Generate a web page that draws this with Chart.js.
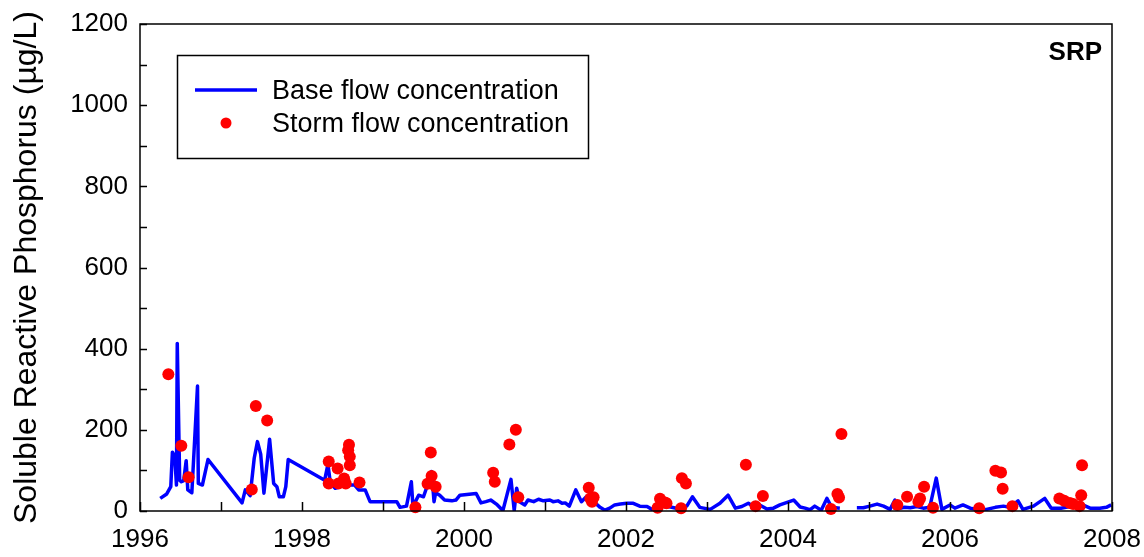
<!DOCTYPE html>
<html>
<head>
<meta charset="utf-8">
<title>SRP</title>
<script src="https://cdn.jsdelivr.net/npm/chart.js@4.4.1/dist/chart.umd.min.js"></script>
<style>
    html, body { margin: 0; padding: 0; background: #fff; }
    #wrap { width: 1144px; height: 557px; position: relative; }
</style>
</head>
<body>
<div id="wrap"><canvas id="srpChart"></canvas></div>
<script>
// Base flow samples (decimal year, µg/L); null = gap in the record
const baseYears = [
    1996.25, 1996.33, 1996.38, 1996.40, 1996.43, 1996.45, 1996.46, 1996.49, 1996.51, 1996.54,
    1996.57, 1996.59, 1996.64, 1996.71, 1996.72, 1996.77, 1996.84, 1997.26, 1997.30, 1997.36,
    1997.41, 1997.45, 1997.49, 1997.53, 1997.56, 1997.60, 1997.65, 1997.69, 1997.72, 1997.77,
    1997.80, 1997.83, 1998.28, 1998.32, 1998.35, 1998.41, 1998.53, 1998.65, 1998.70, 1998.78,
    1998.84, 1999.17, 1999.21, 1999.29, 1999.35, 1999.37, 1999.44, 1999.50, 1999.55, 1999.60,
    1999.63, 1999.65, 1999.70, 1999.76, 1999.85, 1999.90, 1999.95, 2000.15, 2000.21, 2000.27,
    2000.33, 2000.40, 2000.48, 2000.58, 2000.62, 2000.65, 2000.69, 2000.75, 2000.79, 2000.86,
    2000.92, 2000.98, 2001.06, 2001.10, 2001.16, 2001.21, 2001.25, 2001.30, 2001.38, 2001.45,
    2001.51, 2001.58, 2001.68, 2001.74, 2001.80, 2001.86, 2001.93, 2002.01, 2002.09, 2002.17,
    2002.26, 2002.32, 2002.42, 2002.52, 2002.62, 2002.75, 2002.82, 2002.91, 2003.04, 2003.16,
    2003.26, 2003.35, 2003.43, 2003.51, 2003.59, 2003.65, 2003.74, 2003.82, 2003.90, 2004.07,
    2004.15, 2004.21, 2004.27, 2004.33, 2004.41, 2004.48, 2004.54, 2004.64, 2004.75, 2004.85,
    2004.93, 2005.01, 2005.10, 2005.18, 2005.26, 2005.32, 2005.38, 2005.44, 2005.51, 2005.59,
    2005.67, 2005.75, 2005.83, 2005.90, 2006.00, 2006.06, 2006.16, 2006.25, 2006.33, 2006.45,
    2006.56, 2006.66, 2006.74, 2006.84, 2006.90, 2007.03, 2007.17, 2007.25, 2007.37, 2007.48,
    2007.56, 2007.64, 2007.73, 2007.85, 2007.93, 2007.99
];
const baseValues = [
    31, 42, 60, 145, 134, 64, 413, 76, 72, 75,
    124, 52, 45, 308, 68, 64, 127, 20, 52, 38,
    130, 171, 140, 44, 101, 177, 68, 60, 35, 35,
    60, 127, 76, 115, 69, 56, 64, 64, 52, 52,
    23, 23, 9, 12, 72, 11, 39, 35, 64, 97,
    23, 45, 39, 27, 25, 27, 39, 43, 20, 23,
    27, 17, 1, 78, 1, 56, 22, 15, 27, 23,
    29, 25, 27, 23, 25, 19, 20, 12, 52, 23,
    35, 27, 9, 2, 7, 15, 17, 19, 19, 12,
    11, 4, 12, 11, 7, 12, 35, 9, 4, 19,
    39, 7, 11, 19, 9, 15, 5, 7, 15, 27,
    10, 7, 3, 12, 2, 31, 9, 7, null, 8,
    8, 12, 17, 12, 4, 27, 7, 9, 8, 11,
    7, 9, 81, 4, 15, 7, 15, 7, 4, 4,
    9, 12, 9, 25, 4, 12, 31, 7, 7, 11,
    17, 15, 7, 7, 9, 15
];

// Storm flow samples
const stormYears = [
    1996.35, 1996.51, 1996.60, 1997.38, 1997.43, 1997.57, 1998.33, 1998.33, 1998.44, 1998.45,
    1998.52, 1998.54, 1998.57, 1998.58, 1998.59, 1998.59, 1998.71, 1999.40, 1999.55, 1999.59,
    1999.60, 1999.65, 2000.36, 2000.38, 2000.56, 2000.64, 2000.67, 2001.54, 2001.56, 2001.58,
    2001.60, 2002.39, 2002.42, 2002.48, 2002.50, 2002.68, 2002.69, 2002.74, 2003.48, 2003.60,
    2003.69, 2004.53, 2004.61, 2004.63, 2004.66, 2005.35, 2005.47, 2005.61, 2005.63, 2005.68,
    2005.79, 2006.36, 2006.56, 2006.63, 2006.65, 2006.77, 2007.35, 2007.41, 2007.48, 2007.52,
    2007.60, 2007.62, 2007.63
];
const stormValues = [
    337, 161, 83, 53, 259, 223, 122, 68, 105, 68,
    80, 68, 150, 163, 134, 113, 70, 9, 67, 144,
    86, 60, 94, 72, 164, 200, 34, 57, 31, 23,
    34, 8, 30, 21, 19, 7, 81, 68, 114, 12,
    37, 5, 42, 33, 190, 15, 35, 23, 31, 60,
    8, 7, 99, 95, 55, 12, 31, 25, 20, 17,
    12, 39, 113
];

const yearRange = [1996, 2008];
const yTickLabels = [0, 200, 400, 600, 800, 1000, 1200];
const panelLabel = 'SRP';

const FONT = 'Arial, "Liberation Sans", sans-serif';

// axis box, inward ticks, legend and panel label
const framePlugin = {
    id: 'frame',
    afterDatasetsDraw(chart) {
        const { ctx, chartArea: a, scales } = chart;
        ctx.save();
        ctx.strokeStyle = '#000';
        ctx.lineWidth = 1.5;
        ctx.strokeRect(a.left, a.top, a.right - a.left, a.bottom - a.top);

        ctx.beginPath();
        scales.x.ticks.forEach(t => {
            const px = Math.round(scales.x.getPixelForValue(t.value)) + 0.5;
            ctx.moveTo(px, a.bottom);
            ctx.lineTo(px, a.bottom - 9);
        });
        scales.y.ticks.forEach(t => {
            const py = Math.round(scales.y.getPixelForValue(t.value)) + 0.5;
            ctx.moveTo(a.left, py);
            ctx.lineTo(a.left + 7, py);
        });
        ctx.stroke();

        // legend
        ctx.lineWidth = 1.5;
        ctx.strokeRect(177.5, 55.5, 411, 103);
        ctx.strokeStyle = '#0000ff';
        ctx.lineWidth = 3.5;
        ctx.beginPath();
        ctx.moveTo(195, 90);
        ctx.lineTo(257, 90);
        ctx.stroke();
        ctx.fillStyle = '#ff0000';
        ctx.beginPath();
        ctx.arc(226, 123, 5.5, 0, Math.PI * 2);
        ctx.fill();

        ctx.fillStyle = '#000';
        ctx.font = '27px ' + FONT;
        ctx.textBaseline = 'middle';
        ctx.textAlign = 'left';
        ctx.fillText(chart.data.datasets[0].label, 272, 92);
        ctx.fillText(chart.data.datasets[1].label, 272, 125);

        ctx.font = 'bold 26px ' + FONT;
        ctx.textAlign = 'right';
        ctx.fillText(panelLabel, 1102, 53);
        ctx.restore();
    }
};

const ctx = document.getElementById('srpChart').getContext('2d');
new Chart(ctx, {
    type: 'scatter',
    data: {
        datasets: [{
            label: 'Base flow concentration',
            data: baseYears.map((yr, i) => ({ x: yr, y: baseValues[i] })),
            showLine: true,
            borderColor: '#0000ff',
            borderWidth: 3.5,
            borderJoinStyle: 'round',
            pointRadius: 0,
            tension: 0,
            spanGaps: false,
            order: 2
        }, {
            label: 'Storm flow concentration',
            data: stormYears.map((yr, i) => ({ x: yr, y: stormValues[i] })),
            showLine: false,
            backgroundColor: '#ff0000',
            borderWidth: 0,
            pointRadius: 6,
            clip: false,
            order: 1
        }]
    },
    options: {
        responsive: true,
        maintainAspectRatio: false,
        animation: false,
        layout: { padding: { top: 24, right: 32, left: 0, bottom: 0 } },
        plugins: {
            legend: { display: false },
            tooltip: { enabled: false }
        },
        scales: {
            x: {
                type: 'linear',
                min: yearRange[0],
                max: yearRange[1],
                grid: { display: false, drawTicks: false },
                border: { display: false },
                ticks: {
                    stepSize: 1,
                    autoSkip: false,
                    maxRotation: 0,
                    padding: 13,
                    color: '#000',
                    font: { family: FONT, size: 26 },
                    callback: v => (v % 2 === 0 ? String(v) : '')
                },
                afterFit: scale => {
                    scale.height = 46;
                    scale.paddingLeft = 0;
                    scale.paddingRight = 0;
                }
            },
            y: {
                min: 0,
                max: yTickLabels[yTickLabels.length - 1],
                grid: { display: false, drawTicks: false },
                border: { display: false },
                ticks: {
                    stepSize: 100,
                    autoSkip: false,
                    padding: 12,
                    color: '#000',
                    font: { family: FONT, size: 26 },
                    callback: v => (yTickLabels.includes(v) ? String(v) : '')
                },
                title: {
                    display: true,
                    text: 'Soluble Reactive Phosphorus (µg/L)',
                    color: '#000',
                    font: { family: FONT, size: 32 },
                    padding: { top: 8, bottom: 0 }
                },
                afterFit: scale => {
                    scale.width = 140;
                    scale.paddingTop = 0;
                    scale.paddingBottom = 0;
                }
            }
        }
    },
    plugins: [framePlugin]
});
</script>
</body>
</html>
